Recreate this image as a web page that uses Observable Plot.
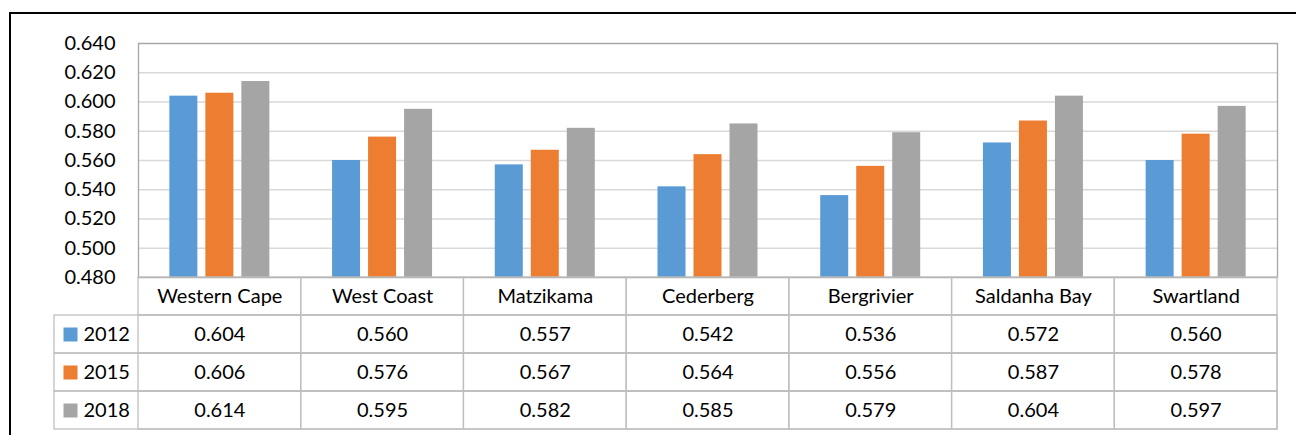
<!DOCTYPE html>
<html>
<head>
<meta charset="utf-8">
<script src="https://cdn.jsdelivr.net/npm/d3@7"></script>
<script src="https://cdn.jsdelivr.net/npm/@observablehq/plot@0.6"></script>
<style>
  html, body { margin: 0; padding: 0; background: #fff; overflow: hidden; }
  #wrap { position: relative; width: 1296px; height: 435px; }
  #border { position: absolute; left: 9px; top: 12px; width: 1400px; height: 600px; border: 2px solid #000; box-sizing: border-box; }
  #chart { position: absolute; left: 0; top: 0; }
  #table { position: absolute; left: 0; top: 277px; }
  svg { font-family: Lato, "Open Sans", sans-serif; }
</style>
</head>
<body>
<div id="wrap">
  <div id="border"></div>
  <div id="chart"></div>
  <div id="table"></div>
</div>
<script>
const categories = ["Western Cape", "West Coast", "Matzikama", "Cederberg", "Bergrivier", "Saldanha Bay", "Swartland"];
const years = ["2012", "2015", "2018"];
const values2012 = [0.604, 0.560, 0.557, 0.542, 0.536, 0.572, 0.560];
const values2015 = [0.606, 0.576, 0.567, 0.564, 0.556, 0.587, 0.578];
const values2018 = [0.614, 0.595, 0.582, 0.585, 0.579, 0.604, 0.597];
const yTicks = [0.480, 0.500, 0.520, 0.540, 0.560, 0.580, 0.600, 0.620, 0.640];
const colors = ["#5B9BD5", "#ED7D31", "#A5A5A5"];

const seriesValues = [values2012, values2015, values2018];
const data = [];
years.forEach((yr, i) => categories.forEach((c, j) => data.push({cat: c, year: yr, value: seriesValues[i][j]})));
const yMin = yTicks[0];
const yMax = yTicks[yTicks.length - 1];
const fmt = d3.format(".3f");
const colorOf = Object.fromEntries(years.map((y, i) => [y, colors[i]]));

const bandW = (1296 - 138 - 19) / categories.length;
const barW = 28, barStep = 36;
const inset = (bandW - barW) / 2;

const chart = Plot.plot({
  width: 1296,
  height: 277,
  marginLeft: 138,
  marginRight: 19,
  marginTop: 43,
  marginBottom: 0,
  style: {overflow: "visible", fontFamily: "Lato, 'Open Sans', sans-serif", background: "transparent"},
  x: {type: "band", domain: categories, padding: 0, round: false, axis: null},
  y: {domain: [yMin, yMax], axis: null},
  marks: [
    Plot.ruleY(yTicks, {stroke: "#d9d9d9", strokeWidth: 1.3}),
    ...years.map((yr, i) => Plot.barY(data.filter(d => d.year === yr), {
      x: "cat", y1: () => yMin, y2: "value",
      fill: colorOf[yr], insetLeft: inset, insetRight: inset, dx: (i - 1) * barStep
    })),
    Plot.frame({stroke: "#a6a6a6", strokeWidth: 1.3}),
    Plot.axisY({ticks: yTicks, tickFormat: fmt, tickSize: 0, tickPadding: 23, fontSize: 20, fill: "#000", label: null})
  ]
});
document.getElementById("chart").appendChild(chart);

const rows = ["header", ...years];
const table = Plot.plot({
  width: 1296,
  height: 158,
  marginLeft: 54,
  marginRight: 19,
  marginTop: 0,
  marginBottom: 6,
  style: {overflow: "visible", fontFamily: "Lato, 'Open Sans', sans-serif", background: "transparent"},
  x: {type: "band", domain: categories, range: [138, 1277], padding: 0, round: false, axis: null},
  y: {type: "band", domain: rows, padding: 0, round: false, axis: null},
  marks: [
    Plot.cell(years, {y: d => d, fill: "none", stroke: "#bfbfbf", strokeWidth: 1.3, inset: 0}),
    Plot.cell(categories.map(c => ({cat: c, row: "header"})), {x: "cat", y: "row", fill: "none", stroke: "#bfbfbf", strokeWidth: 1.3, inset: 0}),
    Plot.cell(data, {x: "cat", y: "year", fill: "none", stroke: "#bfbfbf", strokeWidth: 1.3, inset: 0}),
    Plot.text(categories, {x: d => d, y: () => "header", fontSize: 20, fill: "#000"}),
    Plot.text(data, {x: "cat", y: "year", text: d => fmt(d.value), fontSize: 20, fill: "#000"}),
    Plot.dot(years, {y: d => d, frameAnchor: "left", dx: 16, symbol: "square", r: 7.9, fill: d => colorOf[d], stroke: "none"}),
    Plot.text(years, {y: d => d, frameAnchor: "left", dx: 29, textAnchor: "start", fontSize: 20, fill: "#000"})
  ]
});
document.getElementById("table").appendChild(table);
</script>
</body>
</html>
